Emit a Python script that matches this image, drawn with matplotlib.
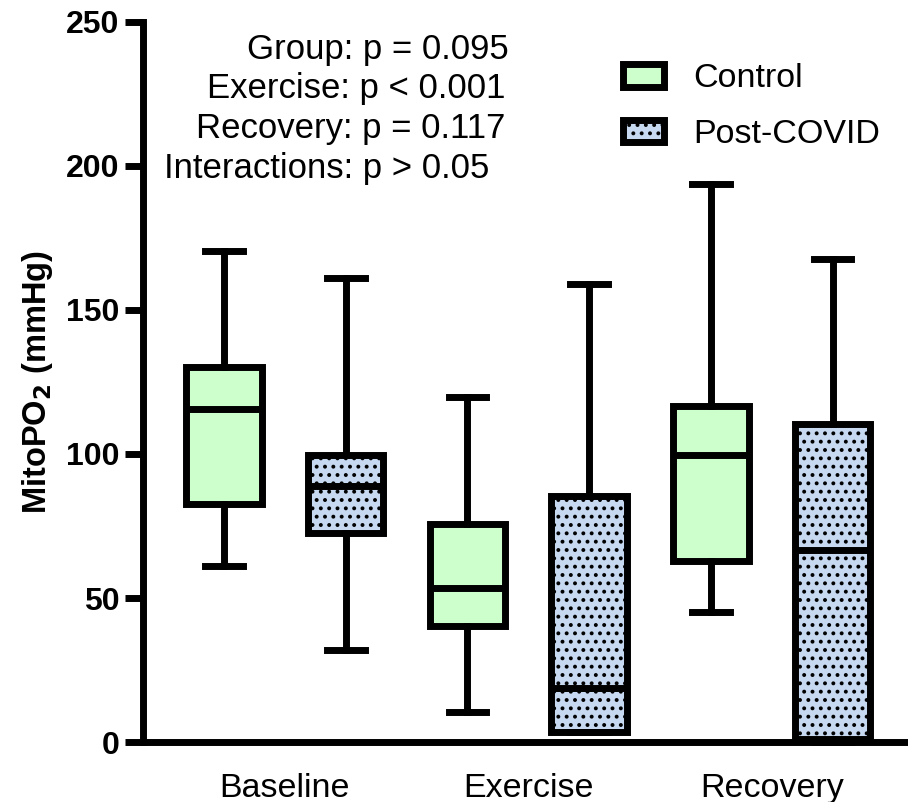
import matplotlib
matplotlib.use("Agg")
import matplotlib.pyplot as plt
from matplotlib.patches import Patch

plt.rcParams['font.family'] = ['Liberation Sans', 'DejaVu Sans']
plt.rcParams['hatch.linewidth'] = 1.6

categories = ["Baseline", "Exercise", "Recovery"]
groups = ["Control", "Post-COVID"]

# per category: [Baseline, Exercise, Recovery]
control_min = [61, 10.5, 45]
control_q1 = [82.5, 40.3, 62.8]
control_med = [115.6, 53.5, 99.7]
control_q3 = [130.2, 75.7, 116.7]
control_max = [170.5, 119.8, 193.8]

covid_min = [32, 3.5, 0]
covid_q1 = [72.5, 3.5, 1.2]
covid_med = [88.9, 18.8, 66.5]
covid_q3 = [99.7, 85.4, 110.5]
covid_max = [161, 159, 167.7]

stats_text = ["Group: p = 0.095", "Exercise: p < 0.001",
              "Recovery: p = 0.117", "Interactions: p > 0.05"]

yticks = [0, 50, 100, 150, 200, 250]

colors = {"Control": "#ccffcc", "Post-COVID": "#c6d9f1"}

fig = plt.figure(figsize=(9.08, 8.02), dpi=100)
ax = fig.add_axes([0.1575, 0.0748, 0.8425, 0.8978])

def make_stats(mins, q1s, meds, q3s, maxs):
    out = []
    for a, b, c, d, e in zip(mins, q1s, meds, q3s, maxs):
        out.append(dict(whislo=a, q1=b, med=c, q3=d, whishi=e, fliers=[]))
    return out

lw = 5
width = 0.31
offset = 0.25
for gi, (name, st) in enumerate([
        ("Control", make_stats(control_min, control_q1, control_med, control_q3, control_max)),
        ("Post-COVID", make_stats(covid_min, covid_q1, covid_med, covid_q3, covid_max))]):
    pos = [i + (offset if gi else -offset) for i in range(len(categories))]
    bp = ax.bxp(st, positions=pos, widths=width, patch_artist=True, showfliers=False,
                manage_ticks=False, capwidths=width * 0.5,
                boxprops=dict(facecolor=colors[name], edgecolor='black', linewidth=lw,
                              hatch='..' if gi else None),
                medianprops=dict(color='black', linewidth=lw),
                whiskerprops=dict(color='black', linewidth=lw),
                capprops=dict(color='black', linewidth=lw))
    for art in bp['boxes'] + bp['whiskers'] + bp['caps'] + bp['medians']:
        art.set_clip_on(False)

ax.set_xlim(-0.583, 2.56)
ax.set_ylim(0, 250)
ax.set_yticks(yticks)
ax.set_yticklabels([str(t) for t in yticks], fontsize=23, fontweight='bold')
ax.set_xticks(range(len(categories)))
ax.set_xticklabels(categories, fontsize=24.5)
ax.tick_params(axis='x', length=0, pad=22)
ax.tick_params(axis='y', length=13, width=lw, pad=4)
for s in ['top', 'right']:
    ax.spines[s].set_visible(False)
for s in ['left', 'bottom']:
    ax.spines[s].set_linewidth(lw)
ax.spines['left'].set_capstyle('projecting')

ax.set_ylabel("MitoPO$_\\mathbf{2}$ (mmHg)", fontsize=23.5, fontweight='bold', labelpad=8)

ys = [0.962, 0.907, 0.852, 0.797]
xs = [0.478, 0.474, 0.474, 0.453]
for t, x, y in zip(stats_text, xs, ys):
    ax.text(x, y, t, transform=ax.transAxes, ha='right', va='center', fontsize=25)

handles = [Patch(facecolor=colors["Control"], edgecolor='black', linewidth=lw),
           Patch(facecolor=colors["Post-COVID"], edgecolor='black', linewidth=lw, hatch='..')]
ax.legend(handles, groups, loc='upper left', bbox_to_anchor=(0.588, 0.985), frameon=False,
          fontsize=24.5, handlelength=1.2, handleheight=0.65, labelspacing=0.72, handletextpad=0.85)

fig.savefig("out.png", dpi=100)
